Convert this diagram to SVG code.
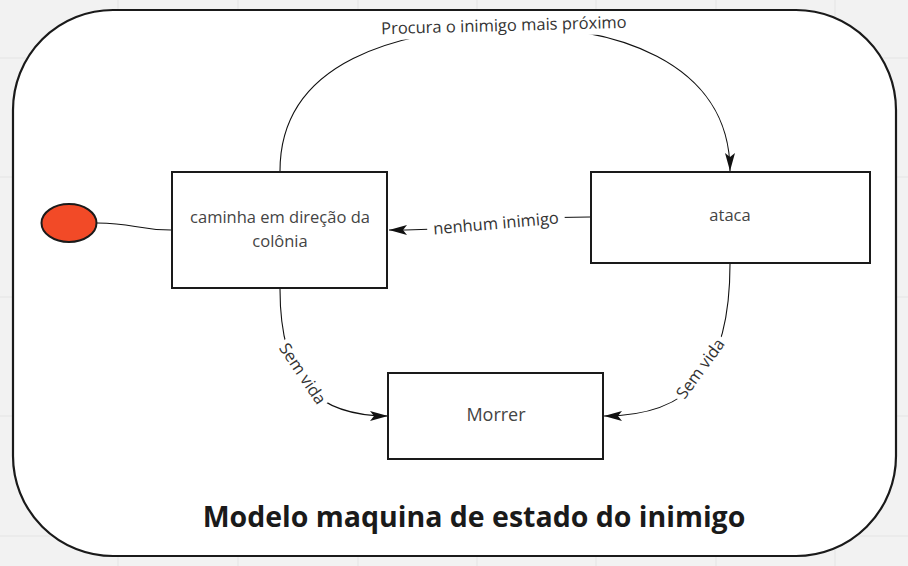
<svg xmlns="http://www.w3.org/2000/svg" width="908" height="566" viewBox="0 0 908 566">
<defs>
<marker id="arr" markerWidth="18" markerHeight="10" refX="18" refY="5" orient="auto" markerUnits="userSpaceOnUse">
<path d="M0,0 L18,5 L0,10 L4,5 Z" fill="#111"/>
</marker>
<style>
.grid{stroke:#e4e4e4;stroke-width:1}
.box{fill:#fff;stroke:#1a1a1a;stroke-width:2}
.ntext{font-family:"Open Sans","Liberation Sans",sans-serif;font-size:16.5px;fill:#444;text-anchor:middle}
.conn{fill:none;stroke:#111;stroke-width:1.1}
.lbl{font-family:"Open Sans","Liberation Sans",sans-serif;font-size:16.5px;fill:#333;text-anchor:middle}
.lblbg{fill:#fff}
</style>
</defs>
<rect width="908" height="566" fill="#f2f2f2"/>
<g id="grid">
<line class="grid" x1="118" y1="0" x2="118" y2="566"/>
<line class="grid" x1="238" y1="0" x2="238" y2="566"/>
<line class="grid" x1="358" y1="0" x2="358" y2="566"/>
<line class="grid" x1="477" y1="0" x2="477" y2="566"/>
<line class="grid" x1="596" y1="0" x2="596" y2="566"/>
<line class="grid" x1="716" y1="0" x2="716" y2="566"/>
<line class="grid" x1="835" y1="0" x2="835" y2="566"/>
<line class="grid" x1="0" y1="58" x2="908" y2="58"/>
<line class="grid" x1="0" y1="177" x2="908" y2="177"/>
<line class="grid" x1="0" y1="297" x2="908" y2="297"/>
<line class="grid" x1="0" y1="416" x2="908" y2="416"/>
<line class="grid" x1="0" y1="536" x2="908" y2="536"/>
</g>
<g id="frame">
<rect x="13" y="10" width="883" height="546" rx="100" ry="100" fill="#fff" stroke="#1a1a1a" stroke-width="2.2"/>
<text x="474" y="527" font-family="'Open Sans','Liberation Sans',sans-serif" font-size="28.5" font-weight="bold" fill="#1a1a1a" text-anchor="middle">Modelo maquina de estado do inimigo</text>
</g>
<g id="connectors">
<path class="conn" d="M280,171 C280,60 400,30 505,27 C610,24 730,60 730,171" marker-end="url(#arr)"/>
<g transform="translate(504,31) rotate(-1.5)">
<rect class="lblbg" x="-128" y="-14" width="256" height="20"/>
<text class="lbl" x="0" y="0">Procura o inimigo mais próximo</text>
</g>
<path class="conn" d="M590,217 C490,217 490,230 389,230" marker-end="url(#arr)"/>
<g transform="translate(496,224) rotate(-5)">
<rect class="lblbg" x="-69" y="-13" width="138" height="22"/>
<text class="lbl" x="0" y="5">nenhum inimigo</text>
</g>
<path class="conn" d="M97,223 C135,223 135,230 171,230"/>
<path class="conn" d="M280,289 C280,385 320,416 388,416" marker-end="url(#arr)"/>
<g transform="translate(302,374) rotate(56)">
<rect class="lblbg" x="-38" y="-12" width="76" height="22"/>
<text class="lbl" x="0" y="5">Sem vida</text>
</g>
<path class="conn" d="M730,264 C730,372 690,416 604,416" marker-end="url(#arr)"/>
<g transform="translate(701,369) rotate(-54)">
<rect class="lblbg" x="-38" y="-12" width="76" height="22"/>
<text class="lbl" x="0" y="5">Sem vida</text>
</g>
</g>
<g id="start">
<ellipse cx="69" cy="223" rx="27.5" ry="19" fill="#f24a27" stroke="#1a1a1a" stroke-width="2"/>
</g>
<g id="caminha">
<rect class="box" x="172" y="172" width="215" height="116"/>
<text class="ntext" x="280" y="223">caminha em direção da</text>
<text class="ntext" x="280" y="247">colônia</text>
</g>
<g id="ataca">
<rect class="box" x="591" y="172" width="279" height="91"/>
<text class="ntext" x="730" y="221">ataca</text>
</g>
<g id="morrer">
<rect class="box" x="388" y="373" width="215" height="86"/>
<text class="ntext" x="496" y="421" style="font-size:18px">Morrer</text>
</g>
</svg>
